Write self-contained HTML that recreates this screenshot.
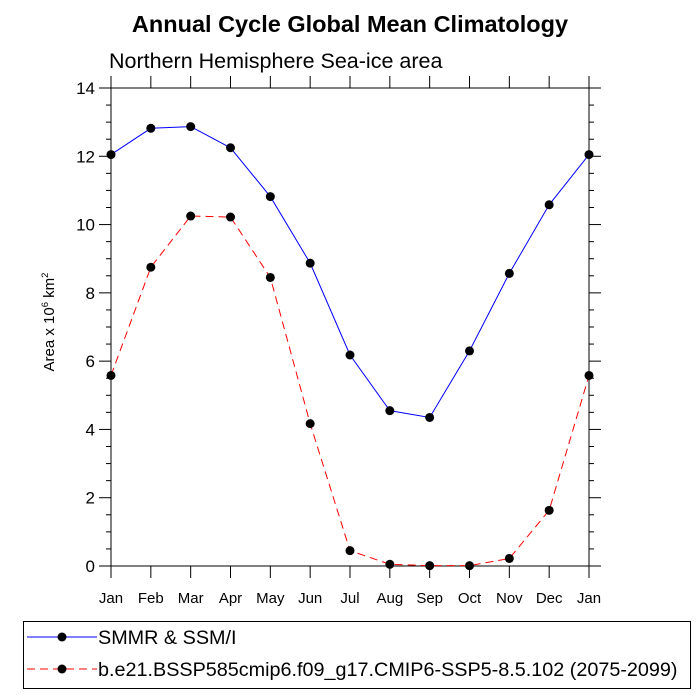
<!DOCTYPE html>
<html><head><meta charset="utf-8"><style>
html,body{margin:0;padding:0;background:#fff;}
svg{display:block;font-family:"Liberation Sans",sans-serif;}
</style></head><body>
<svg id="chart" width="700" height="700" viewBox="0 0 700 700">
<text x="350" y="32" text-anchor="middle" font-size="23.5" font-weight="bold">Annual Cycle Global Mean Climatology</text>
<text x="109" y="68" font-size="21.5">Northern Hemisphere Sea-ice area</text>
<g id="axes"></g>
<g id="series"></g>
<text transform="translate(54,322) rotate(-90)" text-anchor="middle" font-size="15">Area x 10<tspan font-size="9.5" dy="-6">6</tspan><tspan dy="6"> km</tspan><tspan font-size="9.5" dy="-6">2</tspan></text>
<g>
<rect x="23.5" y="621.5" width="667" height="67" fill="none" stroke="#000" stroke-width="1"/>
<g>
<line x1="27" y1="637" x2="97" y2="637" stroke="#0000ff" stroke-width="1"/>
<circle cx="62" cy="637" r="4.5" fill="#000"/>
<text x="98" y="644" font-size="19.8">SMMR &amp; SSM/I</text></g>
<g>
<line x1="27" y1="669" x2="97" y2="669" stroke="#ff0000" stroke-width="1" stroke-dasharray="8,5"/>
<circle cx="62" cy="669" r="4.5" fill="#000"/>
<text x="98" y="676" font-size="19.8">b.e21.BSSP585cmip6.f09_g17.CMIP6-SSP5-8.5.102 (2075-2099)</text></g>
</g>
</svg>
<script>
const months = ["Jan","Feb","Mar","Apr","May","Jun","Jul","Aug","Sep","Oct","Nov","Dec","Jan"];
const obsValues = [12.05,12.82,12.87,12.25,10.82,8.87,6.18,4.55,4.35,6.30,8.57,10.58,12.05];
const modelValues = [5.58,8.75,10.25,10.22,8.45,4.17,0.45,0.05,0.01,0.01,0.22,1.63,5.58];
const yTicks = [0,2,4,6,8,10,12,14];

const NS="http://www.w3.org/2000/svg";
const L=111,R=589,T=88,B=566,YMAX=14;
const xs=i=>L+(R-L)*i/(months.length-1);
const ys=v=>B-(B-T)*v/YMAX;
function mk(tag,attrs,parent){const e=document.createElementNS(NS,tag);for(const k in attrs)e.setAttribute(k,attrs[k]);parent.appendChild(e);return e;}
const ax=document.getElementById('axes');
const frame=mk('rect',{x:L,y:T,width:R-L,height:B-T,fill:'none',stroke:'#000','stroke-width':1},ax);


for(let v=0;v<=YMAX+0.001;v+=0.5){
  const y=ys(v),major=Math.abs(v-Math.round(v/2)*2)<1e-6;
  const len=major?12:5;
  mk('line',{x1:L,y1:y,x2:L-len,y2:y,stroke:'#000','stroke-width':1},ax);
  mk('line',{x1:R,y1:y,x2:R+len,y2:y,stroke:'#000','stroke-width':1},ax);
}
yTicks.forEach(v=>{
  const t=mk('text',{x:L-16,y:ys(v)+6,'text-anchor':'end','font-size':17},ax);
  t.textContent=v;
  
  
});
months.forEach((m,i)=>{
  const x=xs(i);
  mk('line',{x1:x,y1:B,x2:x,y2:B+12,stroke:'#000','stroke-width':1},ax);
  mk('line',{x1:x,y1:T,x2:x,y2:T-12,stroke:'#000','stroke-width':1},ax);
  const t=mk('text',{x:x,y:B+37,'text-anchor':'middle','font-size':15},ax);
  t.textContent=m;
  
  
});
const sg=document.getElementById('series');
function draw(vals,color,dash,name){
  const g=mk('g',{},sg);
  
  
  const p=mk('polyline',{points:vals.map((v,i)=>xs(i)+','+ys(v)).join(' '),fill:'none',stroke:color,'stroke-width':1},g);
  if(dash)p.setAttribute('stroke-dasharray',dash);
  
  
  vals.forEach((v,i)=>{
    const c=mk('circle',{cx:xs(i),cy:ys(v),r:4.5,fill:'#000'},g);
    
    
  });
}
draw(obsValues,'#0000ff',null,'series-smmr');
draw(modelValues,'#ff0000','8,5','series-model');
</script>
</body></html>
